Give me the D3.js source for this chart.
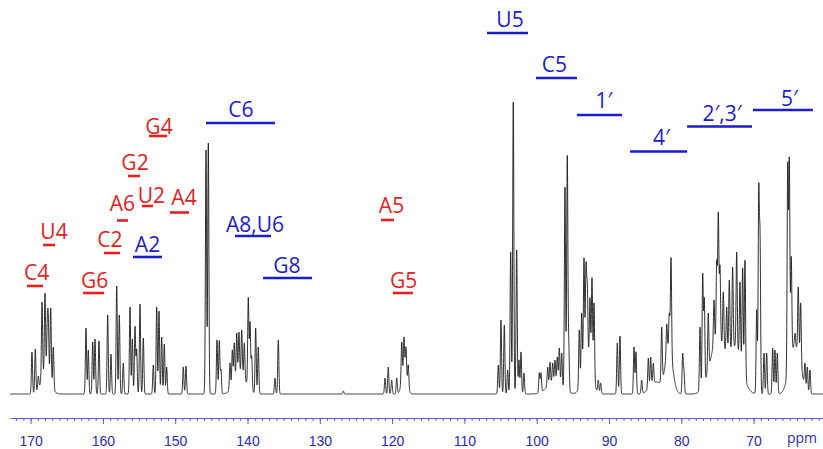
<!DOCTYPE html>
<html>
<head>
<meta charset="utf-8">
<script src="https://cdn.jsdelivr.net/npm/d3@7"></script>
<style>
  body { margin: 0; background: #fff; }
  svg { display: block; font-family: "Open Sans", "Noto Sans", sans-serif; }
  .tick text { font-size: 14px; fill: #2b2bbf; }
  .axis path, .axis line { stroke: #5b5bd6; }
</style>
</head>
<body>
<svg width="823" height="449"></svg>
<script>
(function() {
  // peak list (ppm, apex intensity)
  var peakPpm = [
    169.81, 169.35, 168.93, 168.42, 168.01, 167.69, 167.55, 167.22, 166.86,
    162.34, 162.02, 161.41, 161.09, 160.54, 159.34, 158.88, 158.09, 157.73, 157.18,
    156.25, 155.93, 155.56, 155.33, 154.87, 154.41, 153.03, 152.56, 152.24, 151.87,
    151.51, 151.18, 148.88, 148.51,
    145.74, 145.42, 144.22, 143.90, 143.67, 142.42, 142.10, 141.83, 141.49, 141.18,
    140.80, 140.44, 139.89, 139.65, 139.42, 138.87, 138.51, 136.20, 135.74,
    126.75, 120.98, 120.53, 120.06, 119.36, 118.67, 118.35, 118.08, 117.76,
    105.31, 104.94, 104.48, 104.01, 103.60, 103.24, 102.77, 102.45, 102.17, 101.76,
    99.64, 99.41, 98.48, 98.16, 97.79, 97.47, 97.15, 96.87, 96.54, 96.09, 95.77, 95.57,
    94.11, 93.78, 93.46, 93.18, 93.00, 92.63, 92.35, 92.07, 91.48, 91.15,
    88.85, 88.48, 86.54, 86.27, 85.48, 84.56, 84.23, 83.87, 82.71, 82.01, 81.66, 81.42,
    79.81, 79.63,
    77.41, 77.04, 76.82, 76.27, 75.48, 75.10, 74.88, 74.65, 74.19, 73.72, 73.36, 72.90,
    72.34, 71.88, 71.51, 71.19, 69.57, 69.29, 69.11, 68.56, 68.19, 67.36, 67.04, 66.72,
    65.28, 65.06, 64.79, 64.27, 63.82, 63.49, 62.89, 62.57, 62.20
  ];
  var peakHeight = [
    42, 45, 18, 92, 101, 66, 70, 86, 47,
    66, 44, 52, 55, 53, 79, 40, 108, 79, 31,
    87, 55, 67, 44, 90, 56, 29, 87, 83, 57,
    50, 27, 27, 28,
    244, 251, 54, 53, 24, 31, 44, 51, 61, 62,
    64, 51, 96, 71, 37, 66, 47, 16, 54,
    3, 16, 27, 14, 16, 52, 57, 47, 29,
    29, 74, 69, 24, 142, 292, 144, 34, 42, 21,
    21, 21, 27, 32, 31, 34, 37, 46, 41, 207, 237, 47,
    64, 81, 136, 126, 104, 96, 116, 91, 14, 11,
    51, 58, 47, 42, 14, 36, 37, 31, 67, 70, 80, 136,
    39, 21,
    67, 119, 94, 81, 94, 131, 179, 127, 102, 87, 114, 127,
    142, 112, 126, 134, 84, 197, 149, 41, 41, 46, 44, 41,
    227, 232, 137, 61, 107, 91, 31, 27, 24
  ];
  // broad underlying humps (ppm, intensity, width)
  var humpPpm = [167.9, 141.0, 118.3, 97.5, 93.0, 83.5, 81.7, 75.0, 72.5, 64.6, 63.7];
  var humpHeight = [22, 20, 22, 12, 40, 12, 45, 55, 45, 40, 25];
  var humpWidth = [0.6, 0.8, 0.35, 1.0, 0.6, 0.8, 0.5, 1.0, 0.9, 0.6, 0.5];

  var tickValues = [170, 160, 150, 140, 130, 120, 110, 100, 90, 80, 70];

  // assignments: label, text ppm, text level, bar from/to ppm, bar level, group
  var labels = [
    ["C4", 169.18, 114, 170.50, 168.28, 108, "base"],
    ["U4", 166.76, 155, 168.28, 166.63, 149, "base"],
    ["G6", 161.16, 106, 162.75, 159.85, 101, "base"],
    ["C2", 159.02, 147.5, 159.85, 157.64, 141, "base"],
    ["A6", 157.29, 183, 158.05, 156.53, 173.5, "base"],
    ["G2", 155.56, 224, 156.53, 154.87, 218, "base"],
    ["U2", 153.28, 191.5, 154.59, 153.07, 188, "base"],
    ["G4", 152.24, 260, 153.62, 151.13, 258, "base"],
    ["A4", 148.78, 189, 150.72, 148.09, 181.5, "base"],
    ["A5", 120.08, 181, 121.54, 119.74, 174, "base"],
    ["G5", 118.42, 106.5, 119.88, 117.11, 101, "base"],
    ["A2", 153.83, 142.5, 155.84, 151.83, 137, "ch"],
    ["C6", 140.90, 277, 145.74, 136.20, 271, "ch"],
    ["A8,U6", 138.96, 162.5, 141.73, 136.75, 158, "ch"],
    ["G8", 134.54, 121.5, 137.86, 131.08, 116, "ch"],
    ["U5", 103.69, 367, 106.87, 101.20, 361, "ch"],
    ["C5", 97.54, 322.5, 100.10, 94.43, 316, "ch"],
    ["1\u2032", 90.69, 286, 94.43, 88.20, 279, "ch"],
    ["4\u2032", 82.74, 249, 87.09, 79.20, 242.5, "ch"],
    ["2\u2032,3\u2032", 74.37, 273.5, 79.20, 70.22, 267.5, "ch"],
    ["5\u2032", 65.03, 288, 70.08, 61.79, 284, "ch"]
  ];
  var groupColor = { base: "#e3221d", ch: "#1c1ccf" };

  var svg = d3.select("svg"),
    width = +svg.attr("width"),
    height = +svg.attr("height");

  var x = d3.scaleLinear()
      .domain([172.85, 60.4])
      .range([10, width]);

  var y = d3.scaleLinear()
      .domain([0, 300])
      .range([394, 94]);

  function gauss(p, c, w) {
    var d = (p - c) / w;
    return Math.exp(-0.5 * d * d);
  }
  function humps(p) {
    var s = 0;
    for (var i = 0; i < humpPpm.length; i++) s += humpHeight[i] * gauss(p, humpPpm[i], humpWidth[i]);
    return s;
  }
  // apex heights are read values, so peaks sit on top of the humps
  var lw = 0.08;
  var amp = peakPpm.map(function(p, i) { return Math.max(0, peakHeight[i] - humps(p)); });
  function intensity(p) {
    var s = humps(p);
    for (var i = 0; i < peakPpm.length; i++) {
      if (Math.abs(p - peakPpm[i]) < 0.6) s += amp[i] * gauss(p, peakPpm[i], lw);
    }
    return s;
  }

  var grid = d3.range(x.domain()[0], x.domain()[1], -0.012);
  var spectrum = grid.map(function(p) { return [p, intensity(p)]; });

  var line = d3.line()
      .x(function(d) { return x(d[0]); })
      .y(function(d) { return y(d[1]); });

  svg.append("path")
      .datum(spectrum)
      .attr("fill", "none")
      .attr("stroke", "#1a1a1a")
      .attr("stroke-width", 0.9)
      .attr("stroke-linejoin", "round")
      .attr("d", line);

  // ppm axis: minor ticks each ppm, labelled every 10
  var axisY = 418;
  svg.append("g")
      .attr("class", "axis")
      .attr("transform", "translate(0," + axisY + ")")
      .call(d3.axisBottom(x)
        .tickValues(d3.range(61, 173))
        .tickSize(3)
        .tickSizeOuter(0)
        .tickFormat(""));

  svg.append("g")
      .attr("class", "axis")
      .attr("transform", "translate(0," + axisY + ")")
      .call(d3.axisBottom(x)
        .tickValues(tickValues)
        .tickSize(6)
        .tickPadding(12)
        .tickSizeOuter(0))
    .select(".domain")
      .remove();

  svg.append("text")
      .attr("x", x(63.3))
      .attr("y", 443)
      .attr("text-anchor", "middle")
      .attr("font-size", 14)
      .attr("fill", "#2b2bbf")
      .text("ppm");

  var lab = svg.append("g").selectAll("g")
    .data(labels)
    .enter().append("g");

  lab.append("line")
      .attr("x1", function(d) { return x(d[3]); })
      .attr("x2", function(d) { return x(d[4]); })
      .attr("y1", function(d) { return y(d[5]); })
      .attr("y2", function(d) { return y(d[5]); })
      .attr("stroke", function(d) { return groupColor[d[6]]; })
      .attr("stroke-width", 2.6);

  lab.append("text")
      .attr("x", function(d) { return x(d[1]); })
      .attr("y", function(d) { return y(d[2]); })
      .attr("text-anchor", "middle")
      .attr("font-size", 21)
      .attr("fill", function(d) { return groupColor[d[6]]; })
      .text(function(d) { return d[0]; });
})();
</script>
</body>
</html>
